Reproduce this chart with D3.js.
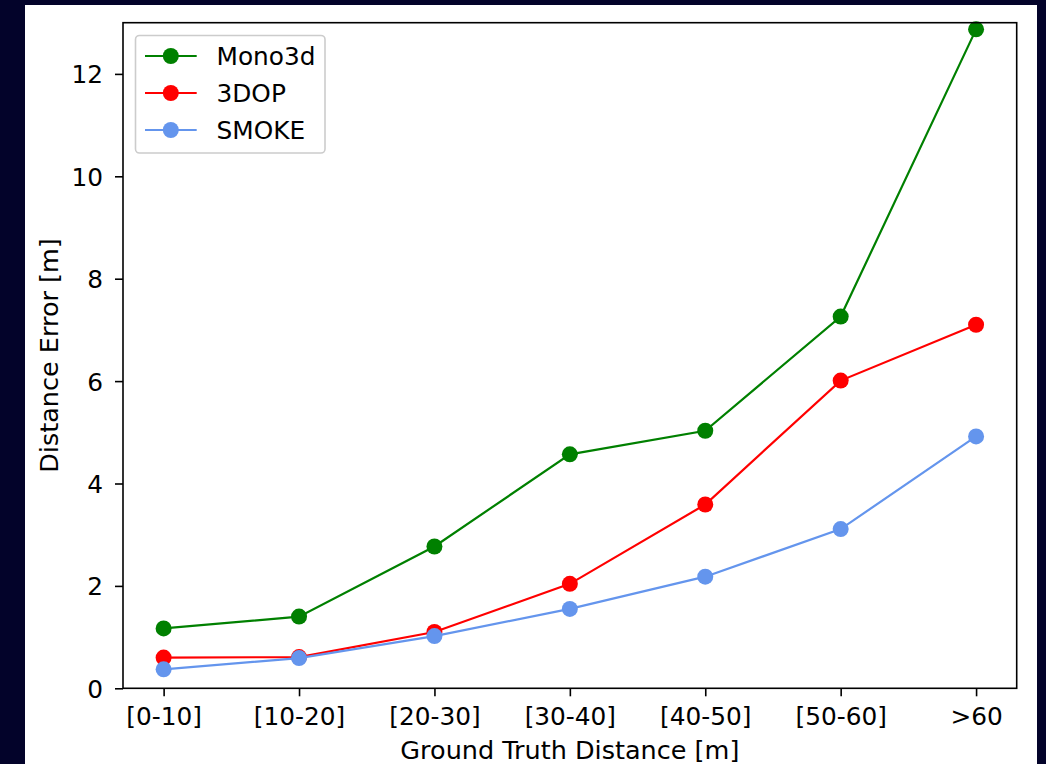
<!DOCTYPE html>
<html>
<head>
<meta charset="utf-8">
<script src="https://cdn.jsdelivr.net/npm/d3@7"></script>
<style>
  html, body { margin: 0; padding: 0; background: #03032a; }
  svg { display: block; }
  text { font-family: "DejaVu Sans", sans-serif; fill: #000; }
</style>
</head>
<body>
<svg id="chart" width="1046" height="764"></svg>
<script>
// Distance bins along the x axis
const categories = ["[0-10]", "[10-20]", "[20-30]", "[30-40]", "[40-50]", "[50-60]", ">60"];

// Mean distance error [m] for each method per bin
const mono3d = [1.17, 1.40, 2.77, 4.57, 5.03, 7.26, 12.87];
const dop3d  = [0.60, 0.61, 1.10, 2.04, 3.59, 6.01, 7.10];
const smoke  = [0.37, 0.59, 1.02, 1.55, 2.18, 3.11, 4.92];

const seriesNames = ["Mono3d", "3DOP", "SMOKE"];
const seriesColors = ["#008000", "#ff0000", "#6495ed"];
const yTicks = [0, 2, 4, 6, 8, 10, 12];

const series = [mono3d, dop3d, smoke].map((values, i) => ({
  name: seriesNames[i], color: seriesColors[i], values
}));

const svg = d3.select("#chart");
const W = 1046, H = 764;

// white figure canvas inside the dark page border
svg.append("rect").attr("x", 25).attr("y", 5).attr("width", 1012).attr("height", H - 5)
  .attr("fill", "#ffffff");

const plot = { left: 123, right: 1016.7, top: 22.7, bottom: 688.3 };

const x = d3.scalePoint().domain(categories).range([plot.left, plot.right]).padding(0.3);
const y = d3.scaleLinear().domain([0, 13]).range([plot.bottom, plot.top]);

const FS = 24.8;

// y axis
const yAxis = svg.append("g").attr("transform", `translate(${plot.left},0)`)
  .call(d3.axisLeft(y).tickValues(yTicks).tickFormat(d3.format("d")).tickSize(8).tickPadding(12));
yAxis.select(".domain").remove();
yAxis.selectAll(".tick line").attr("stroke", "#000").attr("stroke-width", 1.6);
yAxis.selectAll(".tick text").attr("font-size", FS).attr("font-family", "DejaVu Sans")
  .attr("fill", "#000").attr("dy", "0.36em");

// x axis
const xAxis = svg.append("g").attr("transform", `translate(0,${plot.bottom})`)
  .call(d3.axisBottom(x).tickSize(8).tickPadding(10));
xAxis.select(".domain").remove();
xAxis.selectAll(".tick line").attr("stroke", "#000").attr("stroke-width", 1.6);
xAxis.selectAll(".tick text").attr("font-size", FS).attr("font-family", "DejaVu Sans")
  .attr("fill", "#000").attr("dy", "0.76em");

// axis titles
svg.append("text").attr("x", (plot.left + plot.right) / 2).attr("y", 759)
  .attr("text-anchor", "middle").attr("font-size", 25.5).text("Ground Truth Distance [m]");
svg.append("text")
  .attr("transform", `translate(58,${(plot.top + plot.bottom) / 2}) rotate(-90)`)
  .attr("text-anchor", "middle").attr("font-size", 25.5).text("Distance Error [m]");

// series lines and markers
const line = d3.line().x((d, i) => x(categories[i])).y(d => y(d));
series.forEach(s => {
  const g = svg.append("g");
  g.append("path").datum(s.values).attr("d", line)
    .attr("fill", "none").attr("stroke", s.color).attr("stroke-width", 2.2);
  g.selectAll("circle").data(s.values).join("circle")
    .attr("cx", (d, i) => x(categories[i])).attr("cy", d => y(d))
    .attr("r", 8).attr("fill", s.color);
});

// axes frame
svg.append("rect").attr("x", plot.left).attr("y", plot.top)
  .attr("width", plot.right - plot.left).attr("height", plot.bottom - plot.top)
  .attr("fill", "none").attr("stroke", "#000").attr("stroke-width", 1.6);

// legend
const lg = svg.append("g");
lg.append("rect").attr("x", 135.5).attr("y", 35.5).attr("width", 189.5).attr("height", 117.5)
  .attr("rx", 4).attr("fill", "#ffffff").attr("fill-opacity", 0.8)
  .attr("stroke", "#cccccc").attr("stroke-width", 1.6);
series.forEach((s, i) => {
  const cy = 56 + i * 37;
  lg.append("line").attr("x1", 145).attr("x2", 196.7).attr("y1", cy).attr("y2", cy)
    .attr("stroke", s.color).attr("stroke-width", 2.2);
  lg.append("circle").attr("cx", 170.8).attr("cy", cy).attr("r", 8).attr("fill", s.color);
  lg.append("text").attr("x", 216.5).attr("y", cy).attr("dy", "0.36em")
    .attr("font-size", FS).text(s.name);
});
</script>
</body>
</html>
